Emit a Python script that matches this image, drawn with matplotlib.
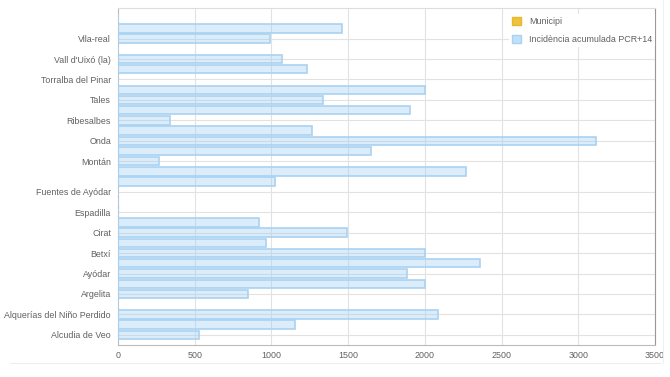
import matplotlib
matplotlib.use("Agg")
import matplotlib.pyplot as plt
from matplotlib.patches import Patch
from matplotlib.lines import Line2D
import numpy as np

# ── Data (bottom → top); blank names are categories whose label is skipped ──
municipis = [
    "Alcudia de Veo", "", "Alquerías del Niño Perdido", "", "Argelita", "",
    "Ayódar", "", "Betxí", "", "Cirat", "", "Espadilla", "",
    "Fuentes de Ayódar", "", "", "Montán", "", "Onda", "", "Ribesalbes", "",
    "Tales", "", "Torralba del Pinar", "", "Vall d'Uixó (la)", "",
    "Vila-real", "", "",
]
incidencia = [
    525, 1155, 2088, 0, 850, 2000,
    1882, 2360, 2000, 966, 1491, 920, 0, 0,
    0, 1023, 2270, 270, 1646, 3118, 1262, 342, 1901,
    1333, 2000, 0, 1232, 1066, 0,
    992, 1458, 0,
]
x_ticks = [0, 500, 1000, 1500, 2000, 2500, 3000, 3500]

BLUE_FILL = (0.60, 0.80, 0.96, 0.35)
BLUE_EDGE = "#a9d2f2"
YELLOW = "#f0c33c"
GRID = "#e2e2e2"
TEXT = "#606060"
FS = 6.4

plt.rcParams["font.family"] = ["Liberation Sans", "DejaVu Sans"]

fig = plt.figure(figsize=(6.7, 3.77), dpi=100)
ax = fig.add_axes([118 / 670, 32 / 377, 537 / 670, 337 / 377])

pos = np.arange(len(municipis))
ax.barh(pos, incidencia, height=0.82, color=BLUE_FILL,
        edgecolor=BLUE_EDGE, linewidth=1.2, zorder=3)

# only the labelled categories get a tick + grid line
shown = [i for i, m in enumerate(municipis) if m]
ax.set_yticks(shown)
ax.set_yticklabels([municipis[i] for i in shown], fontsize=FS, color=TEXT)
ax.set_ylim(-1, len(municipis))

ax.set_xlim(0, 3500)
ax.set_xticks(x_ticks)
ax.set_xticklabels([str(t) for t in x_ticks], fontsize=FS, color=TEXT)

ax.grid(True, color=GRID, linewidth=0.8, zorder=0)
ax.tick_params(length=0)
ax.tick_params(axis="y", pad=5)
ax.tick_params(axis="x", pad=4)
for side, col in (("left", "#bbbbbb"), ("bottom", "#bbbbbb"),
                  ("right", "#999999"), ("top", "#dddddd")):
    ax.spines[side].set_color(col)
    ax.spines[side].set_linewidth(0.8)

handles = [
    Patch(facecolor=YELLOW, edgecolor="#e8b830", label="Municipi"),
    Patch(facecolor="#bfe0fa", edgecolor=BLUE_EDGE, label="Incidència acumulada PCR+14"),
]
leg = ax.legend(handles=handles, loc="upper left", fontsize=FS, frameon=True,
                handlelength=1.0, handleheight=1.0, handletextpad=0.9,
                labelspacing=1.0, borderaxespad=0.0, borderpad=0.3,
                bbox_to_anchor=(0.729, 0.981))
leg.get_frame().set_edgecolor("none")
leg.get_frame().set_facecolor("white")
leg.get_frame().set_alpha(1.0)
for t in leg.get_texts():
    t.set_color(TEXT)
leg.set_zorder(5)

# faint separators around the chart panel
fig.add_artist(Line2D([10 / 670, 660 / 670], [14 / 377, 14 / 377],
                      color="#eeeeee", linewidth=0.8))
fig.add_artist(Line2D([663 / 670, 663 / 670], [14 / 377, 1.0],
                      color="#f0f0f0", linewidth=0.8))

fig.savefig("out.png", dpi=100)
